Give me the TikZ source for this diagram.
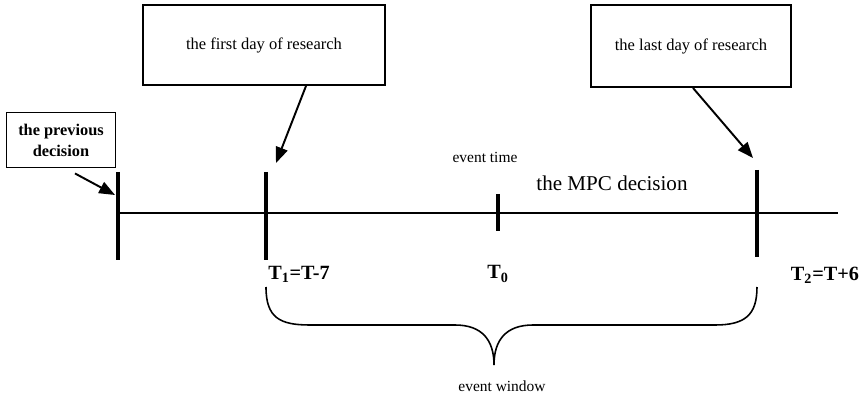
\documentclass[tikz,border=0pt]{standalone}
\usepackage{fontspec}
\setmainfont{Liberation Serif}
\usetikzlibrary{arrows.meta, positioning, calc}

\begin{document}
\begin{tikzpicture}[
        x=0.02cm, y=-0.02cm,
        box/.style={rectangle, draw, line width=1.1pt, align=center, font=\fontsize{9.4}{11}\selectfont},
        arrow/.style={-{Triangle[length=9pt, width=7pt]}, line width=1.1pt},
        tick/.style={line width=2.2pt},
        lbl/.style={font=\bfseries\fontsize{11.5}{13}\selectfont},
        small/.style={font=\fontsize{8.8}{10}\selectfont}
    ]
    \useasboundingbox (0,0) rectangle (866,395);

    % boxes above the time line
    \node (first) [box, minimum width=4.84cm, minimum height=1.6cm] at (264,45) {the first day of research};
    \node (last) [box, minimum width=4cm, minimum height=1.64cm] at (691,46) {the last day of research};
    \node (previous) [box, minimum width=2.18cm, minimum height=1.1cm, font=\bfseries\fontsize{9.3}{12}\selectfont] at (61,140) {the previous\\decision};

    % time line and ticks
    \coordinate (start) at (118,213);
    \coordinate (end) at (838,213);
    \coordinate (prevtop) at (118,172);
    \coordinate (prevbot) at (118,260);
    \coordinate (t1top) at (266,172);
    \coordinate (t1bot) at (266,260);
    \coordinate (t0top) at (498,194);
    \coordinate (t0bot) at (498,231);
    \coordinate (t2top) at (757,170);
    \coordinate (t2bot) at (757,257);

    \draw[line width=1.7pt] (start) -- (end);
    \draw[tick] (prevtop) -- (prevbot);
    \draw[tick] (t1top) -- (t1bot);
    \draw[tick] (t0top) -- (t0bot);
    \draw[tick] (t2top) -- (t2bot);

    \draw[arrow] ($(first.south)+(42,0)$) -- ($(t1top)+(10,-9)$);
    \draw[arrow] ($(last.south)+(2,0)$) -- ($(t2top)+(-4,-12)$);
    \draw[arrow] ($(previous.south)+(14,5)$) -- ($(prevtop)+(-3,23)$);

    % labels
    \node (eventtime) [small] at (485,157) {event time};
    \node (mpc) [font=\fontsize{12}{14}\selectfont] at (612,183) {the MPC decision};
    \node (tone) [lbl] at (299,274) {T\textsubscript{1}=T-7};
    \node (tzero) [lbl] at (498,274) {T\textsubscript{0}};
    \node (ttwo) [lbl] at (825,275) {T\textsubscript{2}=T+6};

    % event window brace
    \coordinate (bl) at (266,287);
    \coordinate (br) at (757,287);
    \coordinate (tip) at (494,365);
    \draw[line width=0.9pt] (bl) .. controls (266,318) and (280,325) .. (310,325) -- (455,325)
        .. controls (482,325) and (494,340) .. (tip)
        .. controls (494,340) and (506,325) .. (533,325) -- (715,325)
        .. controls (745,325) and (757,315) .. (br);
    \node (window) [small] at (502,386) {event window};

\end{tikzpicture}
\end{document}
